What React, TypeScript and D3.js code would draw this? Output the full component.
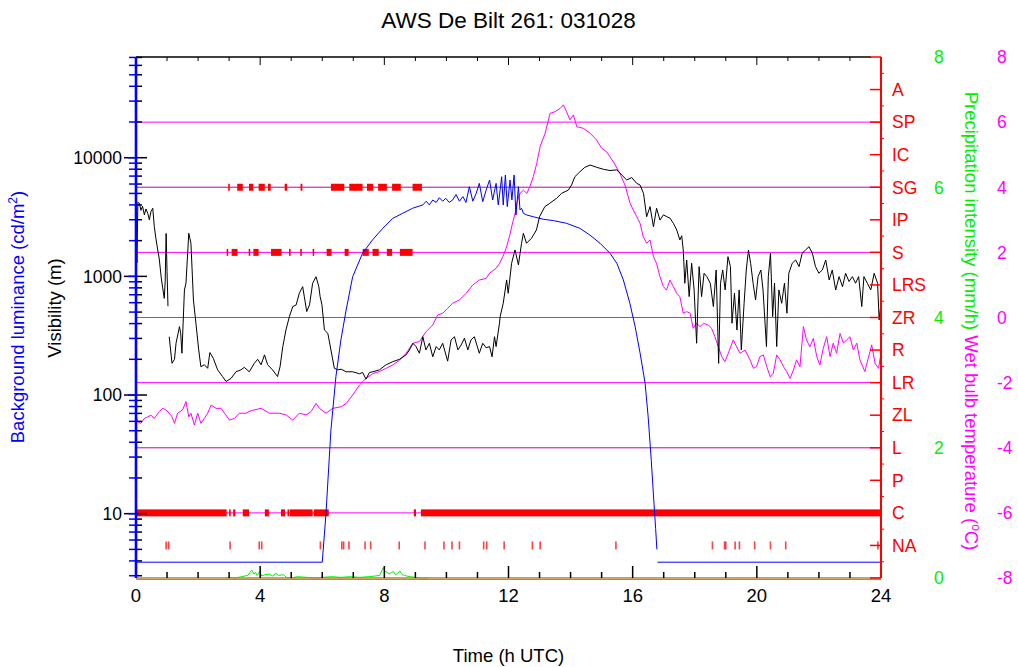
import React from 'react';
import * as d3 from 'd3';

const W = 1018;
const H = 667;
const plot = { left: 136, right: 881, top: 57, bottom: 578 };
const FONT = '"Liberation Sans", Arial, Helvetica, sans-serif';

const titleText = 'AWS De Bilt 261: 031028';
const hourLabels = [0, 4, 8, 12, 16, 20, 24];
const weatherCodes = ['NA', 'C', 'P', 'L', 'ZL', 'LR', 'R', 'ZR', 'LRS', 'S', 'IP', 'SG', 'IC', 'SP', 'A'];
const precipTicks = [0, 2, 4, 6, 8];
const tempTicks = [-8, -6, -4, -2, 0, 2, 4, 6, 8];
const tempGrid = [-6, -4, -2, 0, 2, 4, 6];
const precipGrid = [2, 4, 6];

type Pt = [number, number | null];

// visibility (m) against time (h UTC); null marks a gap in the record
const visibility: Pt[] = [
  [0.0, 4000], [0.03, 1300], [0.06, 4200], [0.11, 4130], [0.16, 3600], [0.21, 3900], [0.27, 3300],
  [0.32, 3700], [0.38, 3400], [0.43, 3000], [0.48, 3500], [0.54, 3750], [0.59, 2620], [0.64, 2100],
  [0.7, 1670], [0.75, 1400], [0.81, 990], [0.86, 800], [0.91, 653], [0.94, 900], [0.97, 2300],
  [1.0, 1100], [1.03, 560], [1.05, null],
  [1.07, 310], [1.16, 185], [1.24, 200], [1.29, 273], [1.4, 377], [1.44, 330], [1.48, 225],
  [1.56, 767], [1.61, 875], [1.7, 2310], [1.77, 1900], [1.85, 632], [1.93, 403], [2.02, 240],
  [2.09, 173], [2.2, 180], [2.31, 168], [2.38, 228], [2.49, 204], [2.63, 163], [2.79, 143],
  [2.9, 130], [3.06, 138], [3.22, 157], [3.38, 163], [3.49, 171], [3.65, 157], [3.81, 185],
  [3.92, 200], [4.03, 180], [4.14, 218], [4.24, 180], [4.4, 163], [4.56, 143], [4.64, 173],
  [4.73, 256], [4.83, 353], [4.94, 457], [5.05, 556], [5.16, 575], [5.26, 720], [5.37, 819],
  [5.42, 680], [5.5, 505], [5.59, 575], [5.69, 875], [5.8, 993], [5.89, 819], [5.93, 680],
  [5.99, 575], [6.07, 353], [6.18, 331], [6.28, 240], [6.39, 168], [6.5, 163], [6.61, 165],
  [6.77, 157], [6.98, 157], [7.2, 151], [7.3, 155], [7.41, 136], [7.52, 155], [7.63, 157],
  [7.84, 163], [8.06, 180], [8.27, 191], [8.49, 200], [8.7, 218], [8.81, 240], [8.92, 273],
  [9.02, 256], [9.13, 225], [9.24, 310], [9.34, 240], [9.45, 273], [9.56, 210], [9.67, 256],
  [9.77, 240], [9.88, 273], [10.04, 193], [10.15, 291], [10.26, 310], [10.37, 240], [10.47, 263],
  [10.58, 301], [10.69, 240], [10.79, 291], [10.9, 310], [11.06, 225], [11.17, 273], [11.28, 250],
  [11.39, 256], [11.47, 210], [11.55, 310], [11.6, 256], [11.71, 403], [11.73, 457], [11.83, 593],
  [11.94, 933], [11.99, 720], [12.1, 1290], [12.21, 1670], [12.32, 1250], [12.42, 1900],
  [12.48, 2310], [12.58, 1900], [12.74, 2095], [12.9, 2460], [13.0, 3180], [13.17, 3870],
  [13.33, 4130], [13.55, 4550], [13.71, 5010], [13.93, 5340], [14.03, 5880], [14.14, 6920],
  [14.3, 7620], [14.46, 8300], [14.63, 8680], [14.84, 8300], [15.06, 7990], [15.27, 7800],
  [15.49, 7900], [15.65, 7140], [15.81, 6490], [15.97, 6800], [16.13, 6080], [16.24, 5880],
  [16.35, 5010], [16.45, 3180], [16.56, 3870], [16.67, 2620], [16.77, 3750], [16.88, 2980],
  [16.99, 3300], [17.1, 3180], [17.2, 3100], [17.31, 2800], [17.42, 2460], [17.52, 2030],
  [17.58, 2200], [17.63, 1670], [17.68, 875], [17.74, 1374], [17.82, 675], [17.9, 1290],
  [17.98, 768], [18.06, 273], [18.14, 1208], [18.22, 675], [18.3, 1062], [18.39, 995],
  [18.5, 875], [18.6, 556], [18.69, 1132], [18.77, 185], [18.83, 875], [18.9, 1132], [18.98, 768],
  [19.07, 1466], [19.15, 1208], [19.2, 403], [19.28, 720], [19.36, 353], [19.43, 768], [19.5, 240],
  [19.59, 593], [19.66, 1132], [19.73, 1669], [19.8, 1290], [19.88, 875], [19.96, 633],
  [20.04, 995], [20.13, 1132], [20.2, 768], [20.31, 256], [20.37, 995], [20.44, 1566], [20.51, 458],
  [20.57, 875], [20.64, 256], [20.71, 768], [20.8, 593], [20.89, 875], [20.97, 489], [21.03, 1062],
  [21.14, 1290], [21.25, 1374], [21.36, 1208], [21.46, 1566], [21.57, 1669], [21.68, 1778],
  [21.79, 1566], [21.89, 1208], [22.0, 1062], [22.11, 1132], [22.22, 1374], [22.33, 933],
  [22.43, 1132], [22.54, 768], [22.65, 995], [22.76, 819], [22.86, 1062], [22.97, 905],
  [23.08, 995], [23.18, 875], [23.28, 995], [23.38, 556], [23.45, 995], [23.56, 875], [23.67, 768],
  [23.78, 1062], [23.89, 875], [23.94, 430], [24.0, 593],
];

// background luminance (cd/m2)
const luminance: Pt[] = [
  [0, 3.9], [6.0, 3.9], [6.12, 10], [6.28, 51], [6.44, 143], [6.6, 291], [6.77, 521], [6.98, 993],
  [7.3, 1567], [7.62, 2030], [7.95, 2540], [8.27, 3080], [8.59, 3400], [8.91, 3750], [9.24, 4000],
  [9.35, 4300], [9.45, 4000], [9.56, 4400], [9.67, 4200], [9.77, 4600], [9.88, 4300], [9.98, 4550],
  [10.09, 4200], [10.2, 4400], [10.31, 4900], [10.42, 4300], [10.53, 4700], [10.63, 4200],
  [10.74, 5700], [10.85, 4300], [10.96, 5010], [11.06, 6080], [11.17, 4260], [11.28, 5340],
  [11.39, 6490], [11.49, 4400], [11.6, 6080], [11.67, 4000], [11.73, 5340], [11.78, 6920],
  [11.83, 3990], [11.9, 7150], [11.96, 3870], [12.05, 6490], [12.11, 4400], [12.18, 7150],
  [12.24, 3290], [12.32, 5700], [12.37, 3630], [12.42, 3750], [12.48, 3400], [12.59, 3290],
  [12.8, 3180], [13.12, 3030], [13.45, 2950], [13.87, 2800], [14.3, 2540], [14.62, 2230],
  [14.95, 1900], [15.27, 1566], [15.49, 1290], [15.7, 933], [15.91, 593], [16.08, 377],
  [16.24, 225], [16.4, 126], [16.5, 65], [16.6, 28], [16.68, 13], [16.74, 7.5], [16.78, 5.0],
  [16.79, null], [16.8, 3.9], [24, 3.9],
];

// wet bulb temperature (degC)
const wetBulb: Pt[] = [
  [0.0, -2.94], [0.05, -3.2], [0.16, -3.25], [0.27, -3.1], [0.38, -3.05], [0.48, -3.0], [0.59, -3.1],
  [0.75, -2.89], [0.86, -2.79], [0.97, -2.84], [1.07, -2.94], [1.16, -3.05], [1.24, -3.25],
  [1.34, -2.94], [1.5, -2.84], [1.61, -2.58], [1.7, -3.05], [1.77, -2.94], [1.88, -3.3],
  [1.99, -2.94], [2.09, -3.25], [2.2, -3.1], [2.31, -2.94], [2.42, -2.69], [2.58, -2.79],
  [2.74, -2.79], [2.85, -2.94], [3.01, -3.15], [3.17, -3.1], [3.33, -2.94], [3.54, -2.94],
  [3.71, -2.86], [4.03, -2.79], [4.3, -2.94], [4.62, -2.94], [4.83, -2.99], [5.05, -3.15],
  [5.26, -2.94], [5.48, -2.99], [5.64, -2.89], [5.8, -2.64], [5.91, -2.79], [6.12, -2.94],
  [6.34, -2.79], [6.61, -2.74], [6.77, -2.64], [6.98, -2.38], [7.2, -2.07], [7.41, -1.87],
  [7.63, -1.72], [7.84, -1.66], [8.06, -1.56], [8.27, -1.46], [8.49, -1.31], [8.7, -1.1],
  [8.92, -0.79], [9.13, -0.74], [9.34, -0.44], [9.56, -0.23], [9.72, 0.08], [9.88, 0.13],
  [10.04, 0.28], [10.2, 0.44], [10.42, 0.54], [10.63, 0.74], [10.85, 1.0], [11.06, 1.15],
  [11.28, 1.2], [11.39, 1.36], [11.6, 1.51], [11.71, 1.66], [11.82, 1.87], [11.92, 2.12],
  [12.03, 2.48], [12.14, 2.94], [12.24, 3.3], [12.26, 3.5], [12.37, 3.81], [12.48, 3.91],
  [12.59, 3.81], [12.69, 4.02], [12.8, 4.33], [12.91, 4.73], [13.02, 5.25], [13.18, 5.66],
  [13.34, 6.27], [13.5, 6.32], [13.66, 6.42], [13.77, 6.53], [13.87, 6.32], [13.98, 6.07],
  [14.09, 6.22], [14.2, 5.86], [14.41, 5.81], [14.63, 5.66], [14.84, 5.45], [15.0, 5.2],
  [15.16, 5.09], [15.38, 4.78], [15.59, 4.42], [15.75, 4.07], [15.92, 3.5], [16.02, 3.3],
  [16.13, 3.1], [16.24, 2.89], [16.34, 2.48], [16.45, 2.28], [16.56, 2.38], [16.67, 1.87],
  [16.77, 1.66], [16.88, 1.25], [16.99, 0.95], [17.09, 0.84], [17.2, 1.15], [17.31, 0.95],
  [17.42, 0.74], [17.52, 0.64], [17.63, 0.13], [17.74, 0.18], [17.85, 0.13], [17.95, -0.33],
  [18.06, -0.18], [18.17, -0.28], [18.28, -0.18], [18.44, -0.23], [18.54, -0.33], [18.65, -0.59],
  [18.76, -0.9], [18.87, -1.2], [18.97, -1.36], [19.08, -1.1], [19.24, -0.69], [19.35, -0.9],
  [19.46, -1.1], [19.62, -1.0], [19.78, -1.3], [19.89, -1.56], [19.99, -1.51], [20.1, -1.2],
  [20.21, -1.15], [20.32, -1.51], [20.43, -1.82], [20.53, -1.71], [20.64, -1.15], [20.75, -1.3],
  [20.86, -1.51], [20.96, -1.66], [21.07, -1.87], [21.18, -1.61], [21.28, -1.3], [21.39, -1.51],
  [21.5, -0.28], [21.6, -0.69], [21.71, -0.9], [21.82, -0.64], [21.93, -1.2], [22.03, -1.46],
  [22.14, -0.95], [22.25, -0.59], [22.36, -1.2], [22.46, -0.79], [22.57, -1.1], [22.68, -0.49],
  [22.79, -0.79], [22.89, -0.69], [23.0, -0.59], [23.11, -1.0], [23.22, -0.79], [23.32, -1.3],
  [23.48, -1.66], [23.59, -1.25], [23.7, -0.84], [23.81, -1.41], [23.92, -1.56], [24.0, -1.1],
];

// precipitation intensity (mm/h)
const precipitation: Pt[] = [
  [2.9, 0], [3.0, 0.01], [3.2, 0.0], [3.4, 0.02], [3.6, 0.04], [3.73, 0.12], [3.8, 0.06],
  [3.85, 0.09], [3.9, 0.04], [3.99, 0.1], [4.05, 0.03], [4.15, 0.05], [4.3, 0.06], [4.4, 0.03],
  [4.5, 0.07], [4.6, 0.04], [4.75, 0.05], [4.85, 0.01], [5.0, 0.0], [5.2, 0.02], [5.5, 0.01],
  [5.8, 0.0], [6.0, 0.01], [6.3, 0.02], [6.6, 0.01], [6.9, 0.02], [7.2, 0.01], [7.5, 0.02],
  [7.7, 0.03], [7.85, 0.04], [7.97, 0.16], [8.02, 0.1], [8.08, 0.09], [8.15, 0.06], [8.22, 0.08],
  [8.29, 0.1], [8.36, 0.05], [8.43, 0.07], [8.5, 0.11], [8.58, 0.05], [8.65, 0.04], [8.72, 0.03],
  [8.85, 0.02], [9.0, 0.01], [9.2, 0.0], [9.4, 0.0],
];

// present-weather reports: [start, end] in h UTC per code
const reportsC: [number, number][] = [
  [0.02, 2.92], [3.0, 3.05], [3.13, 3.2], [3.44, 3.64], [4.15, 4.28], [4.67, 4.8], [4.88, 4.94],
  [4.96, 5.69], [5.73, 6.21], [8.95, 9.02], [9.18, 24.0],
];
const reportsS: [number, number][] = [
  [2.92, 2.97], [3.08, 3.27], [3.63, 3.66], [3.78, 3.95], [4.35, 4.69], [4.93, 4.96], [5.29, 5.33],
  [5.69, 5.73], [6.14, 6.3], [6.72, 6.85], [7.3, 7.5], [7.62, 7.82], [8.08, 8.25], [8.5, 8.91],
];
const reportsSG: [number, number][] = [
  [2.97, 3.0], [3.26, 3.44], [3.64, 3.78], [3.95, 4.15], [4.25, 4.34], [4.79, 4.87], [5.3, 5.36],
  [6.28, 6.71], [6.87, 7.3], [7.44, 7.64], [7.8, 8.08], [8.25, 8.53], [8.91, 9.21],
];
const reportsNA: number[] = [
  0.97, 1.05, 3.03, 3.97, 4.05, 5.94, 6.63, 6.69, 6.86, 7.38, 7.56, 8.48, 9.31, 9.92, 10.18, 10.42,
  11.2, 11.3, 11.86, 12.77, 13.02, 15.46, 18.57, 18.96, 19.0, 19.3, 19.44, 19.93, 20.44, 20.93, 23.9,
];

export default function App() {
  const x = d3.scaleLinear().domain([0, 24]).range([plot.left, plot.right]);
  const yLog = d3.scaleLog().domain([2.87, 70600]).range([plot.bottom, plot.top]);
  const yCat = d3.scaleLinear().domain([0, 16]).range([plot.bottom, plot.top]);
  const yPrec = d3.scaleLinear().domain([0, 8]).range([plot.bottom, plot.top]);
  const yTemp = d3.scaleLinear().domain([-8, 8]).range([plot.bottom, plot.top]);

  const mk = (y: (v: number) => number) =>
    d3.line<Pt>()
      .defined((d) => d[1] != null)
      .x((d) => x(d[0]))
      .y((d) => y(d[1] as number));

  const logTicks = yLog.ticks().filter((v) => v >= 2.87 && v <= 70600);
  const isDecade = (v: number) => Math.abs(Math.log10(v) - Math.round(Math.log10(v))) < 1e-9;
  const hours = d3.range(0, 25);
  const catTicks = d3.range(0, 17);
  const halfTicks = d3.range(0.5, 16, 1);

  const bars = (rows: [number, number][], code: string, key: string) =>
    rows.map(([a, b], i) => {
      const x0 = x(a);
      const w = Math.max(x(b) - x0, 1.6);
      const cy = yCat(weatherCodes.indexOf(code) + 1);
      return <rect key={key + i} x={x0} y={cy - 3.5} width={w} height={7} fill="#ff0000" />;
    });

  return (
    <svg
      width={W}
      height={H}
      viewBox={`0 0 ${W} ${H}`}
      style={{ position: 'absolute', left: 0, top: 0, background: '#fff' }}
      fontFamily={FONT}
    >
      <rect x={0} y={0} width={W} height={H} fill="#fff" />

      {/* temperature grid, with the precipitation grid on top of it */}
      {tempGrid.map((t) => (
        <line key={'tg' + t} x1={plot.left} x2={plot.right} y1={yTemp(t)} y2={yTemp(t)} stroke="#ff00ff" strokeWidth={1} />
      ))}
      {precipGrid.map((p) => (
        <line key={'pg' + p} x1={plot.left} x2={plot.right} y1={yPrec(p)} y2={yPrec(p)} stroke="#707070" strokeOpacity={0.55} strokeWidth={1} />
      ))}

      {/* present weather */}
      {bars(reportsC, 'C', 'c')}
      {bars(reportsS, 'S', 's')}
      {bars(reportsSG, 'SG', 'sg')}
      {reportsNA.map((t, i) => (
        <rect key={'na' + i} x={x(t) - 0.8} y={yCat(1) - 4} width={1.6} height={8} fill="#ff2020" opacity={0.85} />
      ))}

      {/* series */}
      <path d={mk(yTemp)(wetBulb) || ''} fill="none" stroke="#ff00ff" strokeWidth={1} />
      <path d={mk(yLog)(luminance) || ''} fill="none" stroke="#0000ff" strokeWidth={1} />
      <path d={mk(yLog)(visibility) || ''} fill="none" stroke="#000000" strokeWidth={1} />
      <path d={mk(yPrec)(precipitation) || ''} fill="none" stroke="#00f000" strokeWidth={1} />

      {/* top frame with hour ticks */}
      <line x1={plot.left} x2={plot.right - 10} y1={plot.top} y2={plot.top} stroke="#000" strokeWidth={1.5} />
      {hours.map((h) => (
        <line key={'tt' + h} x1={x(h)} x2={x(h)} y1={plot.top} y2={plot.top + (h % 4 === 0 ? 8 : 4)} stroke="#000" strokeWidth={1} />
      ))}

      {/* time axis */}
      <line x1={plot.left} x2={plot.right} y1={plot.bottom + 1.5} y2={plot.bottom + 1.5} stroke="#909090" strokeWidth={1} />
      <line x1={plot.left} x2={plot.right} y1={plot.bottom} y2={plot.bottom} stroke="#c0802a" strokeWidth={1.5} />
      {hours.map((h) => (
        <line key={'bt' + h} x1={x(h)} x2={x(h)} y1={plot.bottom} y2={plot.bottom - (h % 4 === 0 ? 12 : 6)} stroke="#000" strokeWidth={1.5} />
      ))}
      {hourLabels.map((h) => (
        <text key={'bl' + h} x={x(h)} y={602} textAnchor="middle" fontSize={18.5} fill="#000">
          {h}
        </text>
      ))}
      <text x={(plot.left + plot.right) / 2} y={662} textAnchor="middle" fontSize={18.5} fill="#000">
        Time (h UTC)
      </text>

      {/* left logarithmic axis: visibility and background luminance */}
      {logTicks.map((v) => {
        const y = yLog(v);
        const major = isDecade(v);
        return (
          <g key={'lt' + v}>
            <line x1={major ? 124 : plot.left} x2={major ? 147 : 142} y1={y} y2={y} stroke="#000" strokeWidth={1.5} />
            <line x1={major ? 128 : 129} x2={plot.left} y1={y} y2={y} stroke="#0000ff" strokeWidth={1.5} />
          </g>
        );
      })}
      <line x1={plot.left} x2={plot.left} y1={plot.top} y2={plot.bottom} stroke="#0000ff" strokeWidth={2.6} />
      {logTicks.filter(isDecade).map((v) => (
        <text key={'ll' + v} x={122} y={yLog(v)} dy="0.36em" textAnchor="end" fontSize={17.5} fill="#000">
          {v}
        </text>
      ))}
      <text transform="translate(61,308) rotate(-90)" textAnchor="middle" fontSize={18.5} fill="#000">
        Visibility (m)
      </text>
      <text transform="translate(24,317) rotate(-90)" textAnchor="middle" fontSize={18.5} fill="#0000ff">
        Background luminance (cd/m
        <tspan baselineShift="super" fontSize={12}>2</tspan>)
      </text>

      {/* right axis: present weather codes */}
      <line x1={plot.right} x2={plot.right} y1={plot.top} y2={plot.bottom} stroke="#ff0000" strokeWidth={2} />
      {catTicks.map((c) => (
        <line key={'ct' + c} x1={plot.right - 11} x2={plot.right} y1={yCat(c)} y2={yCat(c)} stroke="#ff0000" strokeWidth={1.5} />
      ))}
      {halfTicks.map((c) => (
        <line key={'ch' + c} x1={plot.right} x2={plot.right + 3} y1={yCat(c)} y2={yCat(c)} stroke="#ff0000" strokeWidth={1} />
      ))}
      {weatherCodes.map((code, i) => (
        <text key={'cl' + code} x={892} y={yCat(i + 1)} dy="0.36em" fontSize={17.5} fill="#ff0000">
          {code}
        </text>
      ))}

      {/* precipitation and temperature scales */}
      {precipTicks.map((p) => (
        <text key={'pl' + p} x={934} y={yPrec(p)} dy="0.36em" fontSize={17.5} fill="#00ee00">
          {p}
        </text>
      ))}
      {tempTicks.map((t) => (
        <text key={'wl' + t} x={997} y={yTemp(t)} dy="0.36em" fontSize={17.5} fill="#ff00ff">
          {t}
        </text>
      ))}
      <text transform="translate(965,321) rotate(90)" textAnchor="middle" fontSize={18.5}>
        <tspan fill="#00ee00">Precipitation intensity (mm/h) </tspan>
        <tspan fill="#ff00ff">Wet bulb temperature (</tspan>
        <tspan fill="#ff00ff" baselineShift="super" fontSize={12}>o</tspan>
        <tspan fill="#ff00ff">C)</tspan>
      </text>

      {/* title */}
      <text x={(plot.left + plot.right) / 2} y={28} textAnchor="middle" fontSize={22.5} fill="#000">
        {titleText}
      </text>
    </svg>
  );
}
